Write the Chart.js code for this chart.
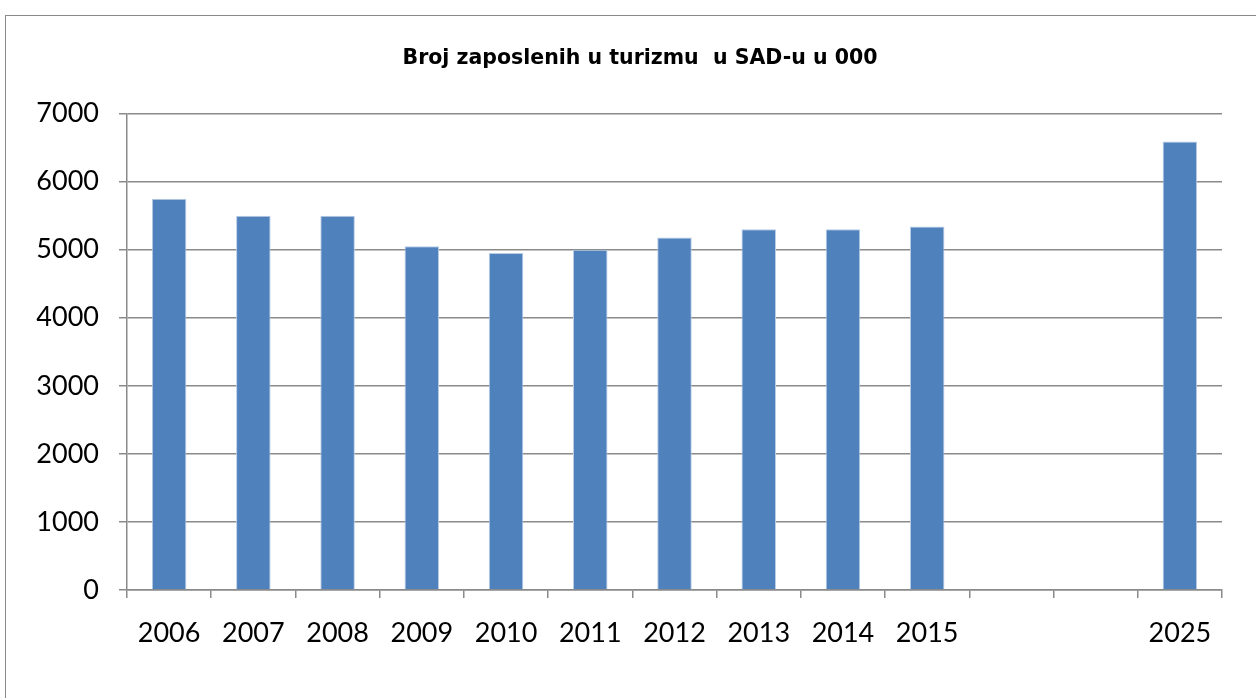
<!DOCTYPE html>
<html lang="hr">
<head>
    <meta charset="UTF-8">
    <title>Broj zaposlenih u turizmu u SAD-u</title>
    <script src="https://cdn.jsdelivr.net/npm/chart.js"></script>
    <style>
        html, body { margin: 0; padding: 0; background: #fff; overflow: hidden; }
        .frame {
            position: absolute; left: 5px; top: 15px; width: 1300px; height: 800px;
            border: 1px solid #8a8a8a; box-sizing: border-box;
        }
        canvas { position: absolute; left: 0; top: 0; }
    </style>
</head>
<body>
    <div class="frame"></div>
    <canvas id="chart" width="1256" height="698"></canvas>

    <script>
        // podaci
        const years = ['2006', '2007', '2008', '2009', '2010', '2011', '2012', '2013', '2014', '2015', '', '', '2025'];
        const employed = [5750, 5500, 5500, 5050, 4950, 5000, 5180, 5300, 5300, 5340, null, null, 6590];
        const yTicks = [0, 1000, 2000, 3000, 4000, 5000, 6000, 7000];

        const labelFont = { family: 'Lato, "Open Sans", sans-serif', size: 27 };

        // naslov je u originalu malo desno od sredine
        const titleShift = {
            id: 'titleShift',
            afterLayout(chart) {
                if (chart.titleBlock) chart.titleBlock.left = 58;
            }
        };

        new Chart(document.getElementById('chart'), {
            type: 'bar',
            data: {
                labels: years,
                datasets: [{
                    data: employed,
                    backgroundColor: '#4f81bd',
                    borderColor: '#b9cde5',
                    borderWidth: 1,
                    categoryPercentage: 1,
                    barPercentage: 0.41
                }]
            },
            plugins: [titleShift],
            options: {
                responsive: false,
                animation: false,
                layout: { padding: { left: 0, right: 34, top: 0, bottom: 38 } },
                plugins: {
                    legend: { display: false },
                    tooltip: { enabled: false },
                    title: {
                        display: true,
                        text: 'Broj zaposlenih u turizmu  u SAD-u u 000',
                        color: '#000',
                        font: { family: '"DejaVu Sans", sans-serif', size: 20.5, weight: 'bold', lineHeight: 1.2 },
                        padding: { top: 46, bottom: 43 }
                    }
                },
                scales: {
                    x: {
                        offset: true,
                        grid: { offset: true, drawOnChartArea: false, color: '#8a8a8a', lineWidth: 1.5, tickLength: 8 },
                        border: { color: '#8a8a8a', width: 1.5 },
                        ticks: { color: '#000', font: labelFont, padding: 19, maxRotation: 0, autoSkip: false },
                        afterFit: (s) => { s.height = 70; }
                    },
                    y: {
                        min: 0,
                        max: 7000,
                        afterBuildTicks: (s) => { s.ticks = yTicks.map(v => ({ value: v })); },
                        grid: { color: '#8a8a8a', lineWidth: 1.5, tickLength: 8 },
                        border: { color: '#8a8a8a', width: 1.5 },
                        ticks: { color: '#000', font: labelFont, padding: 20, callback: (v) => String(v) },
                        afterFit: (s) => { s.width = 127; }
                    }
                }
            }
        });
    </script>
</body>
</html>
